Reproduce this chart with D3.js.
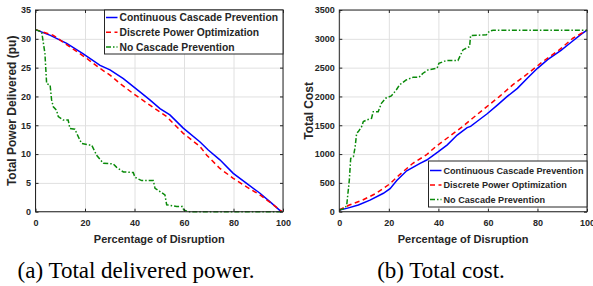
<!DOCTYPE html>
<html>
<head>
<meta charset="utf-8">
<script src="https://cdn.jsdelivr.net/npm/d3@7"></script>
<style>
  body { margin: 0; background: #fff; }
  text { font-family: "Liberation Sans", Arial, sans-serif; font-weight: bold; fill: #262626; }
  .cap { font-family: "Liberation Serif", "Times New Roman", serif; font-weight: normal; fill: #000; }
</style>
</head>
<body>
<div id="chart"></div>
<script>
// ---- data (percentage of disruption on x) ----
var xTicks = [0, 20, 40, 60, 80, 100];
var powerTicks = [0, 5, 10, 15, 20, 25, 30, 35];
var costTicks = [0, 500, 1000, 1500, 2000, 2500, 3000, 3500];
var seriesNames = ["Continuous Cascade Prevention", "Discrete Power Optimization", "No Cascade Prevention"];

// (a) total delivered power
var pctPowerCont = [0, 6, 12.6, 19.3, 26.1, 30.1, 35.5, 42.2, 46.2, 50.3, 54.3, 59.7, 66.5, 69.8, 74.5, 79.9, 85.3, 90.7, 94.8, 98.8, 99.6];
var powerCont    = [31.6, 30.6, 29.2, 27.4, 25.4, 24.6, 23.1, 20.8, 19.4, 17.9, 16.8, 14.5, 12.1, 10.7, 9.0, 6.65, 4.9, 3.2, 1.7, 0.2, 0];
var pctPowerDisc = [0, 7.2, 13.9, 20.7, 26.1, 30.1, 34.1, 39.5, 46.2, 53.0, 59.7, 66.5, 69.2, 74.5, 79.9, 85.3, 90.7, 96.1, 99, 99.6];
var powerDisc    = [31.6, 30.6, 28.6, 26.6, 24.85, 23.7, 22.25, 20.5, 18.5, 16.5, 13.6, 11.3, 9.8, 7.5, 5.8, 4.3, 2.9, 1.2, 0.2, 0];
var pctPowerNone = [0, 2.5, 3.8, 4.5, 5.9, 6.5, 7.2, 8.5, 9.2, 11.2, 13.2, 13.9, 15.9, 17.3, 18.6, 21.3, 22.7, 24.7, 27.4, 31.4, 32.8, 35.5, 39.5, 40.2, 42.9, 47.6, 48.3, 50.3, 52.3, 53.0, 57.0, 59.4, 59.9, 61.8, 100];
var powerNone    = [31.6, 31.2, 27.5, 22.2, 22.0, 19.4, 18.2, 17.6, 16.5, 15.9, 15.9, 14.45, 14.3, 13.0, 11.85, 11.6, 11.55, 9.8, 8.4, 8.3, 7.7, 6.9, 6.8, 5.96, 5.4, 5.4, 4.05, 3.5, 2.9, 1.2, 0.9, 0.9, 0.3, 0, 0];

// (b) total cost
var pctCostCont = [0, 3.0, 7.7, 12.4, 17.8, 20.5, 23.2, 27.2, 32.6, 35.3, 40.0, 43.6, 47.6, 51.6, 53.0, 55.7, 59.7, 63.8, 67.8, 71.9, 76.0, 80.0, 84.1, 89.5, 93.6, 97.7, 100];
var costCont    = [30, 58, 116, 200, 320, 400, 540, 710, 840, 897, 1041, 1160, 1330, 1460, 1480, 1570, 1700, 1850, 2000, 2140, 2320, 2488, 2640, 2800, 2940, 3080, 3150];
var pctCostDisc = [0, 4.05, 9.45, 14.9, 20.3, 24.3, 29.7, 35.1, 38.9, 44.3, 49.7, 53.8, 59.2, 64.6, 70.0, 75.4, 82.1, 88.8, 94.3, 100];
var costDisc    = [30, 116, 203, 319, 480, 640, 840, 984, 1128, 1302, 1476, 1621, 1810, 1997, 2200, 2373, 2604, 2807, 3010, 3150];
var pctCostNone = [0, 2.3, 3.0, 4.05, 4.6, 5.7, 6.4, 7.0, 7.7, 9.0, 9.7, 11.0, 13.0, 13.7, 15.7, 17.0, 18.7, 21.0, 23.0, 24.3, 27.0, 29.8, 32.2, 33.8, 35.8, 39.5, 40.2, 43.2, 47.9, 49.9, 52.6, 53.0, 59.4, 60.7, 62.1, 100];
var costNone    = [30, 58, 116, 550, 926, 955, 1128, 1360, 1390, 1475, 1563, 1592, 1620, 1736, 1736, 1881, 1969, 2008, 2112, 2200, 2286, 2333, 2333, 2403, 2460, 2490, 2576, 2622, 2622, 2807, 2865, 3055, 3070, 3137, 3150, 3150];

var colors = ["#0000ff", "#ff0000", "#0a8a0a"];
var dashes = [null, "5,3.5", "5,2,1.5,2"];

var svg = d3.select("#chart").append("svg")
  .attr("width", 593)
  .attr("height", 286);

function panel(opt) {
  var x = d3.scaleLinear().domain([0, 100]).range([opt.left, opt.right]);
  var y = d3.scaleLinear().domain([0, opt.ymax]).range([opt.bottom, opt.top]);
  var w = opt.right - opt.left, h = opt.bottom - opt.top;
  var g = svg.append("g");

  // grid
  g.append("g").attr("transform", "translate(0," + opt.bottom + ")")
    .call(d3.axisBottom(x).tickValues(xTicks).tickSize(-h).tickFormat(""))
    .call(function(s){ s.select(".domain").remove(); s.selectAll("line").attr("stroke", "#e0e0e0"); });
  g.append("g").attr("transform", "translate(" + opt.left + ",0)")
    .call(d3.axisLeft(y).tickValues(opt.yTicks).tickSize(-w).tickFormat(""))
    .call(function(s){ s.select(".domain").remove(); s.selectAll("line").attr("stroke", "#e0e0e0"); });

  // lines
  var line = d3.line().x(function(d){ return x(d[0]); }).y(function(d){ return y(d[1]); });
  opt.series.forEach(function(s, i) {
    g.append("path")
      .datum(d3.zip(s[0], s[1]))
      .attr("d", line)
      .attr("fill", "none")
      .attr("stroke", colors[i])
      .attr("stroke-width", 1.5)
      .attr("stroke-dasharray", dashes[i]);
  });

  // tick labels
  g.append("g").attr("transform", "translate(0," + opt.bottom + ")")
    .call(d3.axisBottom(x).tickValues(xTicks).tickSize(0).tickPadding(7.5))
    .call(function(s){ s.select(".domain").remove(); s.selectAll("text").style("font-size", "9px").attr("fill", "#262626").style("font-family", null); });
  g.append("g").attr("transform", "translate(" + opt.left + ",0)")
    .call(d3.axisLeft(y).tickValues(opt.yTicks).tickSize(0).tickPadding(4.5).tickFormat(d3.format("d")))
    .call(function(s){ s.select(".domain").remove(); s.selectAll("text").style("font-size", "9px").attr("fill", "#262626").style("font-family", null); });

  // inner ticks on all four sides
  [[d3.axisBottom(x).tickValues(xTicks), "translate(0," + opt.bottom + ")"],
   [d3.axisTop(x).tickValues(xTicks), "translate(0," + opt.top + ")"],
   [d3.axisLeft(y).tickValues(opt.yTicks), "translate(" + opt.left + ",0)"],
   [d3.axisRight(y).tickValues(opt.yTicks), "translate(" + opt.right + ",0)"]].forEach(function(a) {
    g.append("g").attr("transform", a[1])
      .call(a[0].tickSize(-3).tickFormat(""))
      .call(function(s){ s.select(".domain").remove(); s.selectAll("line").attr("stroke", "#262626"); });
  });

  g.append("rect")
    .attr("x", opt.left).attr("y", opt.top).attr("width", w).attr("height", h)
    .attr("fill", "none").attr("stroke", "#262626").attr("stroke-width", 1);

  // axis titles
  g.append("text")
    .attr("x", (opt.left + opt.right) / 2).attr("y", 242.5)
    .attr("text-anchor", "middle").style("font-size", "11px")
    .text("Percentage of Disruption");
  g.append("text")
    .attr("transform", "translate(" + opt.ylabelX + "," + (opt.top + opt.bottom) / 2 + ") rotate(-90)")
    .attr("text-anchor", "middle").style("font-size", "12px")
    .text(opt.ylabel);

  // legend
  var L = opt.legend;
  var lg = g.append("g");
  lg.append("rect")
    .attr("x", L.x).attr("y", L.y).attr("width", L.w).attr("height", L.h)
    .attr("fill", "#fff").attr("stroke", "#262626").attr("stroke-width", 1);
  seriesNames.forEach(function(name, i) {
    var cy = L.y + L.first + i * L.step;
    lg.append("line")
      .attr("x1", L.x + 1.5).attr("x2", L.x + 13)
      .attr("y1", cy).attr("y2", cy)
      .attr("stroke", colors[i]).attr("stroke-width", 1.5)
      .attr("stroke-dasharray", dashes[i]);
    lg.append("text")
      .attr("x", L.x + 15).attr("y", cy).attr("dy", "0.35em")
      .style("font-size", L.size + "px")
      .attr("fill", "#000")
      .text(name);
  });

  // caption
  svg.append("text").attr("class", "cap")
    .attr("x", opt.capX).attr("y", 278)
    .attr("text-anchor", "middle").style("font-size", "23px")
    .text(opt.caption);
}

panel({
  left: 35.5, right: 283, top: 10, bottom: 211.7,
  ymax: 35, yTicks: powerTicks,
  ylabel: "Total Power Delivered (pu)", ylabelX: 16,
  series: [[pctPowerCont, powerCont], [pctPowerDisc, powerDisc], [pctPowerNone, powerNone]],
  legend: { x: 104.5, y: 10, w: 178.5, h: 44, first: 7.5, step: 14.7, size: 10.3 },
  caption: "(a) Total delivered power.", capX: 136
});

panel({
  left: 339.3, right: 587, top: 10, bottom: 211.7,
  ymax: 3500, yTicks: costTicks,
  ylabel: "Total Cost", ylabelX: 312.5,
  series: [[pctCostCont, costCont], [pctCostDisc, costDisc], [pctCostNone, costNone]],
  legend: { x: 428.5, y: 161, w: 158.5, h: 46, first: 9.5, step: 14.5, size: 9.1 },
  caption: "(b) Total cost.", capX: 441
});
</script>
</body>
</html>
